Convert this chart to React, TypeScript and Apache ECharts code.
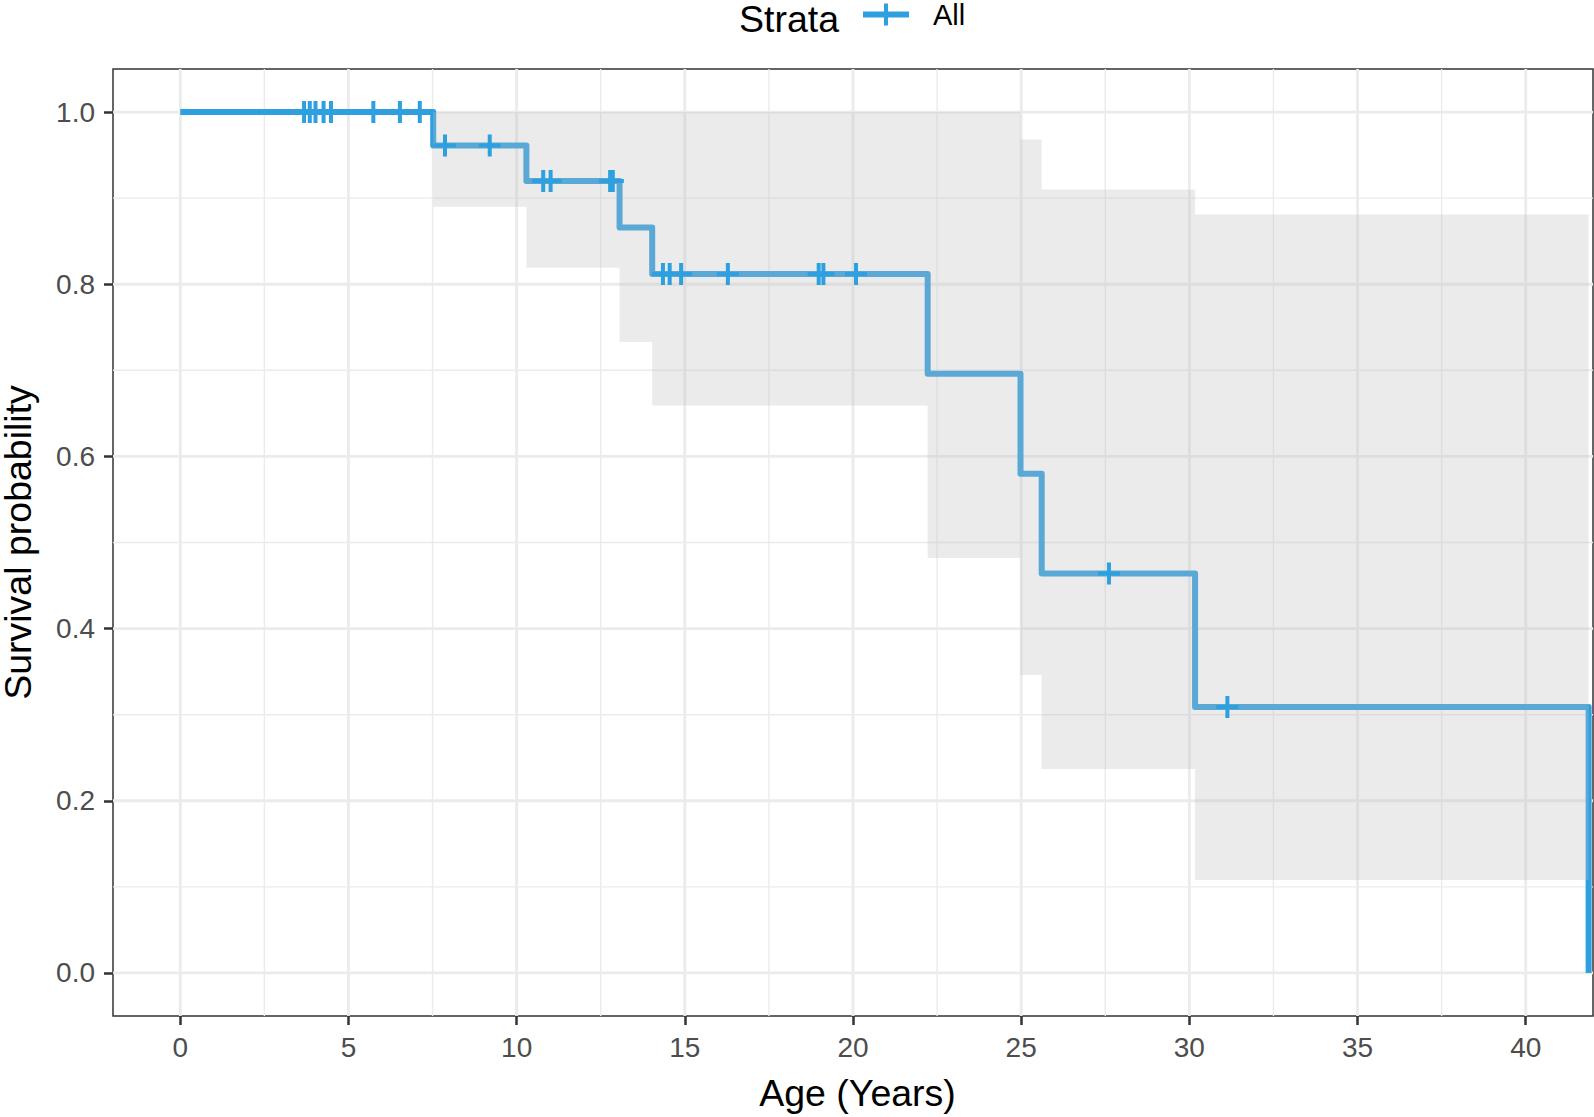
import React, { useEffect, useRef } from "react";
import * as echarts from "echarts";

// Kaplan–Meier step estimate (event times and survival after each time)
const eventTimes = [0, 7.52, 10.29, 13.06, 14.03, 22.22, 24.98, 25.61, 30.17, 41.87];
const survival = [1.0, 0.961, 0.92, 0.866, 0.812, 0.696, 0.58, 0.464, 0.309, 0.0];
// Confidence band for the segment starting at eventTimes[i]
const lowerCI = [1.0, 0.89, 0.819, 0.733, 0.659, 0.482, 0.346, 0.237, 0.108];
const upperCI = [1.0, 1.0, 1.0, 1.0, 1.0, 1.0, 0.968, 0.91, 0.881];
// Censoring times
const censorTimes = [
  3.68, 3.85, 4.02, 4.26, 4.48, 5.74, 6.53, 7.12, 7.87, 9.2, 10.79, 11.01, 12.78,
  12.86, 14.35, 14.55, 14.89, 16.28, 18.98, 19.12, 20.09, 27.61, 31.13,
];
const xTicks = [0, 5, 10, 15, 20, 25, 30, 35, 40];
const xMinorTicks = [2.5, 7.5, 12.5, 17.5, 22.5, 27.5, 32.5, 37.5];
const yTicks = [0, 0.2, 0.4, 0.6, 0.8, 1.0];
const yMinorTicks = [0.1, 0.3, 0.5, 0.7, 0.9];

const strataName = "All";
const LINE_COLOR = "#2E9FDF";
const FONT = "'Liberation Sans', Arial, sans-serif";
const TITLE_SIZE = 37.5;

function survivalAt(t: number): number {
  let s = survival[0];
  for (let i = 0; i < eventTimes.length; i++) {
    if (eventTimes[i] <= t) s = survival[i];
  }
  return s;
}

const PLUS = "path://M9,0H13V9H22V13H13V22H9V13H0V9H9Z";
const LEGEND_ICON = "path://M0,8H21V0H25V8H46V14H25V22H21V14H0Z";

export default function App() {
  const ref = useRef<HTMLDivElement>(null);

  useEffect(() => {
    document.body.style.margin = "0";
    if (!ref.current) return;
    const chart = echarts.init(ref.current, undefined, { renderer: "svg" });

    const gridData: number[][] = [];
    xTicks.forEach((v) => gridData.push([0, v, 1]));
    xMinorTicks.forEach((v) => gridData.push([0, v, 0]));
    yTicks.forEach((v) => gridData.push([1, v, 1]));
    yMinorTicks.forEach((v) => gridData.push([1, v, 0]));

    const option: any = {
      animation: false,
      backgroundColor: "#ffffff",
      textStyle: { fontFamily: FONT },
      grid: {
        left: 113,
        top: 69,
        right: 1,
        bottom: 101,
        containLabel: false,
        outerBoundsMode: "none",
        show: true,
        borderColor: "#333333",
        borderWidth: 1.5,
        backgroundColor: "transparent",
      },
      legend: {
        show: true,
        left: 863,
        top: 0,
        padding: 0,
        itemWidth: 46,
        itemHeight: 22,
        itemGap: 10,
        data: [{ name: strataName, icon: LEGEND_ICON, itemStyle: { color: LINE_COLOR } }],
        textStyle: { fontSize: 29, color: "#000000", fontFamily: FONT, padding: [0, 0, 0, 19] },
        selectedMode: false,
      },
      graphic: [
        {
          type: "text",
          left: 739,
          top: 0,
          style: { text: "Strata", fontSize: TITLE_SIZE, fill: "#000000", fontFamily: FONT },
        },
      ],
      xAxis: {
        type: "value",
        min: -2,
        max: 42,
        name: "Age (Years)",
        nameLocation: "middle",
        nameGap: 58,
        nameTextStyle: {
          fontSize: TITLE_SIZE,
          color: "#000000",
          fontFamily: FONT,
          padding: [0, 0, 0, 9],
        },
        axisLine: { show: false, onZero: false },
        axisTick: {
          show: true,
          customValues: xTicks,
          length: 9,
          lineStyle: { color: "#333333", width: 2.5 },
        },
        axisLabel: {
          customValues: xTicks,
          fontSize: 28,
          color: "#4D4D4D",
          margin: 17,
          fontFamily: FONT,
          formatter: (v: number) => String(v),
        },
        splitLine: { show: false },
      },
      yAxis: {
        type: "value",
        min: -0.05,
        max: 1.05,
        name: "Survival probability",
        nameLocation: "middle",
        nameRotate: 90,
        nameGap: 76,
        nameTextStyle: { fontSize: TITLE_SIZE, color: "#000000", fontFamily: FONT },
        axisLine: { show: false, onZero: false },
        axisTick: {
          show: true,
          customValues: yTicks,
          length: 9,
          lineStyle: { color: "#333333", width: 2.5 },
        },
        axisLabel: {
          customValues: yTicks,
          fontSize: 28,
          color: "#4D4D4D",
          margin: 18,
          fontFamily: FONT,
          formatter: (v: number) => v.toFixed(1),
        },
        splitLine: { show: false },
      },
      series: [
        {
          type: "custom",
          name: "grid",
          z: 1,
          silent: true,
          data: gridData,
          encode: { x: 0, y: 1 },
          renderItem: (params: any, api: any) => {
            const dim = api.value(0);
            const v = api.value(1);
            const major = api.value(2);
            const cs = params.coordSys;
            let shape;
            if (dim === 0) {
              const x = api.coord([v, 0])[0];
              shape = { x1: x, y1: cs.y, x2: x, y2: cs.y + cs.height };
            } else {
              const y = api.coord([0, v])[1];
              shape = { x1: cs.x, y1: y, x2: cs.x + cs.width, y2: y };
            }
            return {
              type: "line",
              shape,
              style: { stroke: "#EBEBEB", lineWidth: major ? 2.8 : 1.4 },
            };
          },
        },
        {
          type: "line",
          name: strataName,
          z: 2,
          step: "end",
          showSymbol: false,
          symbol: "none",
          data: eventTimes.map((t, i) => [t, survival[i]]),
          lineStyle: { color: LINE_COLOR, width: 6, join: "round" },
          itemStyle: { color: LINE_COLOR },
        },
        {
          type: "custom",
          name: "band",
          z: 3,
          silent: true,
          data: [[eventTimes[1], lowerCI[1]]],
          renderItem: (params: any, api: any) => {
            const pts: number[][] = [];
            for (let i = 1; i < lowerCI.length; i++) {
              pts.push(api.coord([eventTimes[i], upperCI[i]]));
              pts.push(api.coord([eventTimes[i + 1], upperCI[i]]));
            }
            for (let i = lowerCI.length - 1; i >= 1; i--) {
              pts.push(api.coord([eventTimes[i + 1], lowerCI[i]]));
              pts.push(api.coord([eventTimes[i], lowerCI[i]]));
            }
            return {
              type: "polygon",
              shape: { points: pts },
              style: { fill: "rgba(191,191,191,0.31)" },
            };
          },
        },
        {
          type: "scatter",
          name: "censor",
          z: 4,
          silent: true,
          symbol: PLUS,
          symbolSize: [22, 22],
          data: censorTimes.map((t) => [t, survivalAt(t)]),
          itemStyle: { color: LINE_COLOR, opacity: 1 },
        },
      ],
    };

    chart.setOption(option);
    return () => chart.dispose();
  }, []);

  return (
    <div
      ref={ref}
      style={{ position: "absolute", left: 0, top: 0, width: 1594, height: 1117 }}
    />
  );
}
